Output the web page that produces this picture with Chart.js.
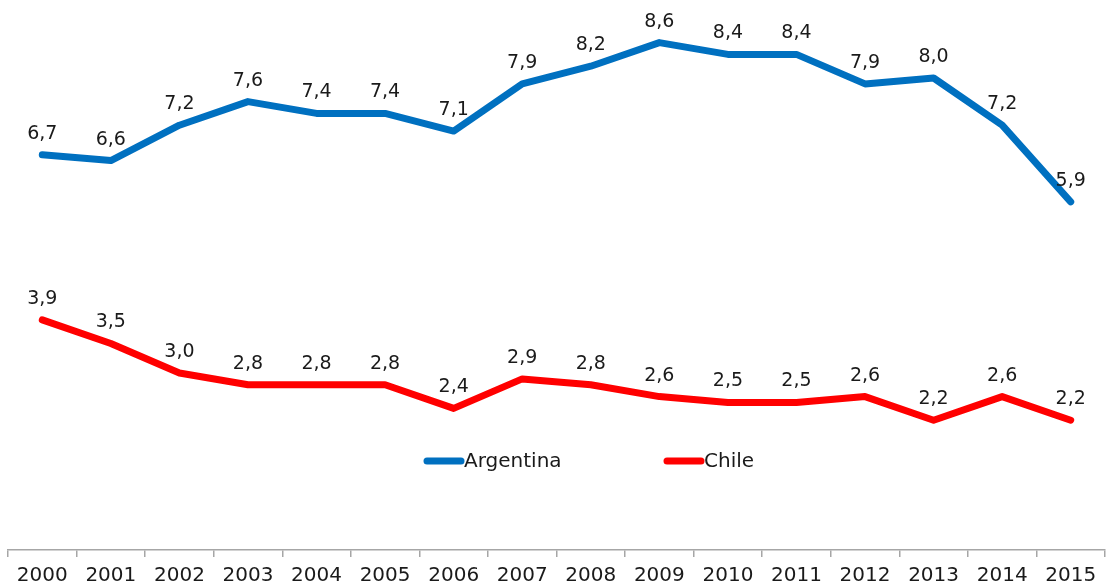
<!DOCTYPE html>
<html>
<head>
<meta charset="utf-8">
<script src="https://cdn.jsdelivr.net/npm/chart.js@4"></script>
<style>
  html, body { margin: 0; padding: 0; background: #fff; }
</style>
</head>
<body>
<canvas id="line-chart" width="1107" height="586"></canvas>
<script>
const years = ["2000", "2001", "2002", "2003", "2004", "2005", "2006", "2007",
               "2008", "2009", "2010", "2011", "2012", "2013", "2014", "2015"];
const argentina = [6.7, 6.6, 7.2, 7.6, 7.4, 7.4, 7.1, 7.9, 8.2, 8.6, 8.4, 8.4, 7.9, 8.0, 7.2, 5.9];
const chile = [3.9, 3.5, 3.0, 2.8, 2.8, 2.8, 2.4, 2.9, 2.8, 2.6, 2.5, 2.5, 2.6, 2.2, 2.6, 2.2];

const FONT = "'DejaVu Sans', sans-serif";
const TEXT = '#1a1a1a';

// value labels above every point, comma as decimal separator
const pointLabels = {
  id: 'pointLabels',
  afterDatasetsDraw(chart) {
    const ctx = chart.ctx;
    ctx.save();
    ctx.font = '19px ' + FONT;
    ctx.fillStyle = TEXT;
    ctx.textAlign = 'center';
    ctx.textBaseline = 'middle';
    chart.data.datasets.forEach((ds, i) => {
      chart.getDatasetMeta(i).data.forEach((pt, j) => {
        ctx.fillText(ds.data[j].toFixed(1).replace('.', ','), pt.x, pt.y - 21);
      });
    });
    ctx.restore();
  }
};

// legend sits inside the plot, under the Chile line
const innerLegend = {
  id: 'innerLegend',
  afterDraw(chart) {
    const ctx = chart.ctx;
    const y = 461;
    const items = [{ x: 424, ds: chart.data.datasets[0] }, { x: 664, ds: chart.data.datasets[1] }];
    ctx.save();
    items.forEach(it => {
      ctx.strokeStyle = it.ds.borderColor;
      ctx.lineWidth = 7;
      ctx.lineCap = 'round';
      ctx.beginPath();
      ctx.moveTo(it.x + 3, y);
      ctx.lineTo(it.x + 37, y);
      ctx.stroke();
      ctx.font = '20px ' + FONT;
      ctx.fillStyle = TEXT;
      ctx.textAlign = 'left';
      ctx.textBaseline = 'middle';
      ctx.fillText(it.ds.label, it.x + 40, y + 1);
    });
    ctx.restore();
  }
};

new Chart(document.getElementById('line-chart'), {
  type: 'line',
  data: {
    labels: years,
    datasets: [{
      label: 'Argentina',
      data: argentina,
      borderColor: '#0070C0',
      backgroundColor: '#0070C0',
      borderWidth: 7,
      borderCapStyle: 'round',
      borderJoinStyle: 'round',
      pointRadius: 0,
      tension: 0
    }, {
      label: 'Chile',
      data: chile,
      borderColor: '#FF0000',
      backgroundColor: '#FF0000',
      borderWidth: 7,
      borderCapStyle: 'round',
      borderJoinStyle: 'round',
      pointRadius: 0,
      tension: 0
    }]
  },
  options: {
    responsive: false,
    animation: false,
    layout: { padding: { top: 19, left: 8, right: 2, bottom: 0 } },
    plugins: {
      legend: { display: false },
      tooltip: { enabled: false }
    },
    scales: {
      x: {
        offset: true,
        afterFit(scale) { scale.height = 36; },
        grid: {
          offset: true,
          drawOnChartArea: false,
          drawTicks: true,
          tickLength: 7,
          color: '#a6a6a6',
          lineWidth: 1.5
        },
        border: { display: true, color: '#a6a6a6', width: 1.5 },
        ticks: {
          color: TEXT,
          font: { family: FONT, size: 20 },
          padding: 7,
          maxRotation: 0,
          autoSkip: false
        }
      },
      y: {
        display: false,
        min: 0,
        max: 9
      }
    }
  },
  plugins: [pointLabels, innerLegend]
});
</script>
</body>
</html>
